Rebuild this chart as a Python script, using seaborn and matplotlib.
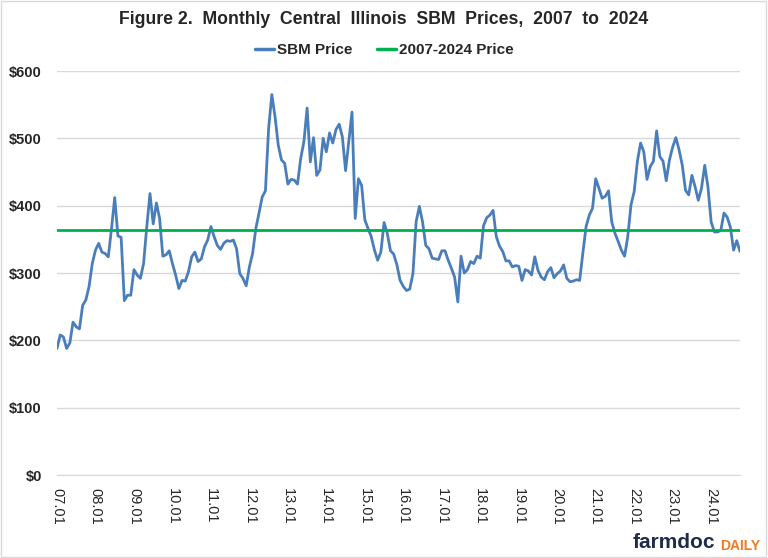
import numpy as np
import pandas as pd
import matplotlib
matplotlib.use("Agg")
import matplotlib.pyplot as plt
import seaborn as sns
from matplotlib.lines import Line2D
from matplotlib.patches import Rectangle

# monthly central Illinois SBM price ($/ton), Jan 2007 - Oct 2024
p2007 = [188, 208, 205, 188, 196, 227, 220, 217, 252, 260, 280, 314]
p2008 = [334, 344, 331, 329, 324, 366, 412, 355, 353, 259, 267, 267]
p2009 = [305, 297, 292, 314, 369, 418, 373, 404, 381, 325, 327, 333]
p2010 = [314, 297, 277, 289, 288, 302, 324, 331, 317, 321, 339, 349]
p2011 = [369, 354, 341, 335, 344, 348, 347, 349, 336, 299, 292, 281]
p2012 = [309, 329, 366, 389, 413, 422, 515, 565, 532, 490, 468, 463]
p2013 = [432, 439, 438, 432, 470, 495, 545, 465, 501, 445, 453, 500]
p2014 = [480, 508, 493, 513, 521, 502, 452, 495, 539, 381, 440, 430]
p2015 = [379, 366, 354, 334, 319, 331, 375, 359, 333, 328, 312, 289]
p2016 = [280, 274, 276, 299, 376, 399, 376, 341, 336, 322, 321, 320]
p2017 = [333, 333, 319, 307, 294, 257, 325, 300, 305, 317, 314, 325]
p2018 = [322, 370, 382, 386, 393, 354, 340, 332, 318, 318, 309, 311]
p2019 = [310, 289, 305, 303, 297, 324, 304, 294, 290, 302, 308, 293]
p2020 = [299, 303, 312, 292, 287, 288, 290, 289, 330, 369, 386, 396]
p2021 = [440, 426, 411, 414, 422, 376, 359, 347, 334, 325, 354, 401]
p2022 = [421, 466, 493, 480, 439, 458, 466, 511, 473, 466, 437, 468]
p2023 = [487, 501, 483, 460, 423, 416, 445, 428, 408, 426, 460, 428]
p2024 = [376, 361, 361, 363, 389, 383, 368, 334, 348, 332]

avg_price = 364  # 2007-2024 average line
year_labels = ["07.01", "08.01", "09.01", "10.01", "11.01", "12.01", "13.01", "14.01", "15.01",
               "16.01", "17.01", "18.01", "19.01", "20.01", "21.01", "22.01", "23.01", "24.01"]

prices = (p2007 + p2008 + p2009 + p2010 + p2011 + p2012 + p2013 + p2014 + p2015
          + p2016 + p2017 + p2018 + p2019 + p2020 + p2021 + p2022 + p2023 + p2024)
df = pd.DataFrame({"month": np.arange(len(prices)), "SBM Price": prices})
df["2007-2024 Price"] = avg_price
long = df.melt(id_vars="month", var_name="series", value_name="price")

blue = "#4a7ebb"
green = "#00b050"

sns.set_style("white")
plt.rcParams["font.family"] = ["Liberation Sans", "DejaVu Sans"]

fig = plt.figure(figsize=(7.68, 5.58), dpi=100)
ax = fig.add_axes([57 / 768, 1 - 475 / 558, 683 / 768, 404 / 558])

sns.lineplot(data=long, x="month", y="price", hue="series",
             palette={"SBM Price": blue, "2007-2024 Price": green},
             linewidth=2.0, ax=ax, legend=False)

ax.set_xlim(0, len(prices) - 1)
ax.set_ylim(0, 600)
ax.set_yticks(range(0, 601, 100))
ax.set_yticklabels([f"${v}" for v in range(0, 601, 100)], fontsize=10.5, fontweight="bold")
ax.set_xticks(np.arange(len(year_labels)) * 12)
ax.set_xticklabels(year_labels, rotation=270, fontsize=10.5)
ax.set_xlabel("")
ax.set_ylabel("")
ax.yaxis.grid(True, color="#d9d9d9", linewidth=1)
ax.set_axisbelow(True)
for s in ["top", "right", "left"]:
    ax.spines[s].set_visible(False)
ax.spines["bottom"].set_color("#d9d9d9")
ax.tick_params(axis="x", direction="in", length=5, color="#d9d9d9", pad=9)
ax.tick_params(axis="y", length=0, pad=11)

fig.text(0.5, 1 - 19 / 558, "Figure 2.  Monthly  Central  Illinois  SBM  Prices,  2007  to  2024",
         ha="center", va="center", fontsize=12.7, fontweight="bold")

handles = [Line2D([], [], color=blue, linewidth=2.5), Line2D([], [], color=green, linewidth=2.5)]
fig.legend(handles, ["SBM Price", "2007-2024 Price"], loc="center", bbox_to_anchor=(0.5, 1 - 50 / 558),
           ncol=2, frameon=False, handlelength=1.3, handletextpad=0.15, columnspacing=1.6,
           prop={"weight": "bold", "size": 11})

# farmdoc daily logo text
fig.text(633 / 768, 1 - 543 / 558, "farmdoc", ha="left", va="center", fontsize=15,
         fontweight="bold", color="#1d2b4c")
fig.text(760 / 768, 1 - 546 / 558, "DAILY", ha="right", va="center", fontsize=10,
         fontweight="bold", color="#f47a20")

fig.patches.append(Rectangle((0.001, 0.001), 0.997, 0.997, transform=fig.transFigure,
                             fill=False, edgecolor="#d9d9d9", linewidth=1))

fig.savefig("out.png", dpi=100)
